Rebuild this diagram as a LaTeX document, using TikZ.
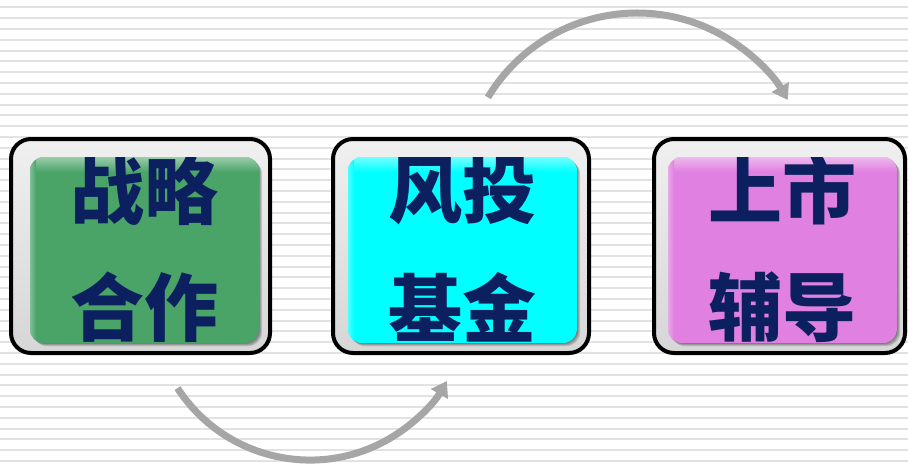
\documentclass[tikz,border=0pt]{standalone}
\usepackage{fontspec}
\newfontfamily\cjk{Noto Sans CJK SC}
\usetikzlibrary{arrows.meta}
\definecolor{stripe}{RGB}{226,226,226}
\definecolor{navy}{RGB}{12,32,96}
\definecolor{arrowgray}{RGB}{166,166,166}
\definecolor{boxgreen}{RGB}{74,164,104}
\definecolor{boxcyan}{RGB}{0,255,255}
\definecolor{boxpink}{RGB}{224,128,224}
\tikzset{
  stripeline/.style={draw=stripe, line width=2pt},
  framebox/.style={draw=black, line width=4pt, rounded corners=20pt,
    top color=white!94!black, bottom color=white!84!black},
  innershadow/.style={fill=black, opacity=0.12, rounded corners=14pt},
  innerbox/.style={rounded corners=14pt},
  label/.style={font=\cjk\bfseries\fontsize{74}{74}\selectfont, text=navy, inner sep=0pt},
  flowarrow/.style={draw=arrowgray, line width=7pt, -{Triangle[width=19pt,length=15pt]}},
}
% #1 name, #2 outer left, #3 outer right, #4 inner left, #5 inner right, #6 colour, #7 line 1, #8 line 2
\newcommand{\stagebox}[8]{%
  \path[framebox] (#2,-139) rectangle (#3,-353);
  \node[inner sep=0pt, minimum width={#3-#2}, minimum height=214pt] (#1) at ({(#2+#3)/2},-246) {};
  \foreach \d in {1,2,3,4}{\path[innershadow] ({#4+\d*0.8},{-157-\d*0.8}) rectangle ({#5+\d*0.8},{-343-\d*0.8});}
  \begin{scope}
    \clip[innerbox] (#4,-157) rectangle (#5,-343);
    \fill[#6] (#4,-157) rectangle (#5,-343);
    \shade[top color=#6!55!white, bottom color=#6] (#4,-157) rectangle (#5,-172);
    \shade[left color=#6!70!white, right color=#6] (#4,-157) rectangle ({#4+6},-343);
    \node[label] (#1a) at ({(#4+#5)/2},-190) {#7};
    \node[label] (#1b) at ({(#4+#5)/2},-307) {#8};
  \end{scope}
}
\begin{document}
\begin{tikzpicture}[x=1pt,y=1pt]
  \useasboundingbox (0,0) rectangle (908,-466);
  \fill[white] (0,0) rectangle (908,-466);
  \foreach \i in {0,...,42}{\draw[stripeline] (0,{-7.3-10.8*\i}) -- (908,{-7.3-10.8*\i});}
  \stagebox{s1}{11}{270}{30}{259}{boxgreen}{战略}{合作}
  \stagebox{s2}{333}{589}{348}{577}{boxcyan}{风投}{基金}
  \stagebox{s3}{654}{905}{668}{897}{boxpink}{上市}{辅导}
  \coordinate (a1s) at (177.5,-388.1);
  \coordinate (a2s) at (487.9,-97.4);
  \draw[flowarrow] (a1s) arc[start angle=213, end angle=330, radius=158];
  \draw[flowarrow] (a2s) arc[start angle=149, end angle=30, radius=174];
\end{tikzpicture}
\end{document}
